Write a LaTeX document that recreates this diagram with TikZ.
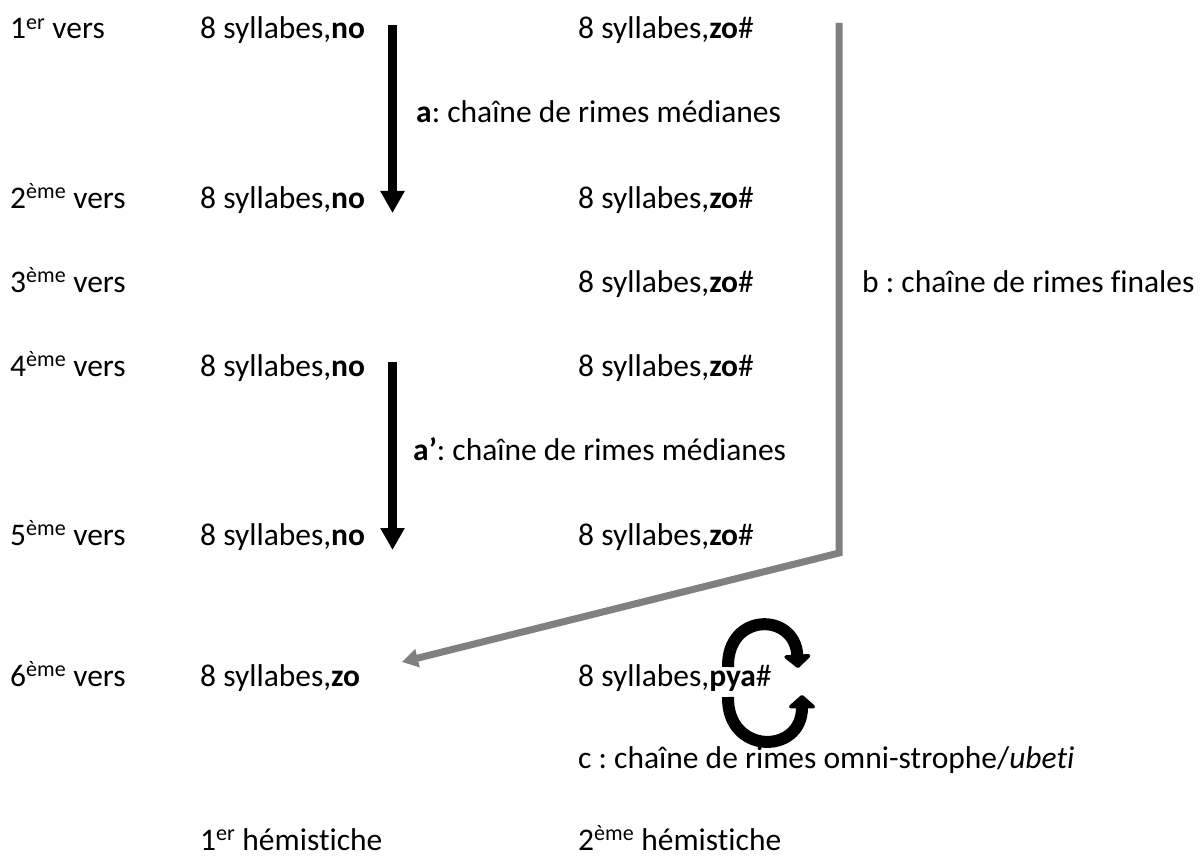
\documentclass[tikz,border=0pt]{standalone}
\usepackage{fontspec}
\setmainfont{Carlito}[Ligatures={NoCommon}]
\usetikzlibrary{arrows.meta}
\definecolor{chaingray}{RGB}{128,128,128}
\frenchspacing
\begin{document}
\begin{tikzpicture}[x=1pt,y=-1pt,
  txt/.style={anchor=base west, inner sep=0pt, font=\fontsize{31.5}{38}\selectfont\frenchspacing},
  blackarrow/.style={line width=8.5pt, draw=black, -{Triangle[width=23pt,length=22pt]}},
  grayarrow/.style={line width=7pt, draw=chaingray, line join=miter, -{Triangle[width=18pt,length=16pt]}},
  cyclearrow/.style={line width=12pt, draw=black, -{Triangle[width=31pt,length=14pt,round]}}]
\useasboundingbox (0,0) rectangle (1201,861);
% row labels
\node[txt] (v1) at (10,39) {1\textsuperscript{er} vers};
\node[txt] (v2) at (10,208) {2\textsuperscript{ème} vers};
\node[txt] (v3) at (10,292) {3\textsuperscript{ème} vers};
\node[txt] (v4) at (10,376) {4\textsuperscript{ème} vers};
\node[txt] (v5) at (10,545) {5\textsuperscript{ème} vers};
\node[txt] (v6) at (10,686) {6\textsuperscript{ème} vers};
% first hemistich
\node[txt] (h1r1) at (200,39) {8 syllabes,\textbf{no}};
\node[txt] (h1r2) at (200,208) {8 syllabes,\textbf{no}};
\node[txt] (h1r4) at (200,376) {8 syllabes,\textbf{no}};
\node[txt] (h1r5) at (200,545) {8 syllabes,\textbf{no}};
\node[txt] (h1r6) at (200,686) {8 syllabes,\textbf{zo}};
% second hemistich
\node[txt] (h2r1) at (578,39) {8 syllabes,\textbf{zo}\#};
\node[txt] (h2r2) at (578,208) {8 syllabes,\textbf{zo}\#};
\node[txt] (h2r3) at (578,292) {8 syllabes,\textbf{zo}\#};
\node[txt] (h2r4) at (578,376) {8 syllabes,\textbf{zo}\#};
\node[txt] (h2r5) at (578,545) {8 syllabes,\textbf{zo}\#};
\node[txt] (h2r6) at (578,686) {8 syllabes,\textbf{pya}\#};
% chain labels
\node[txt] (la) at (416,123) {\textbf{a}: chaîne de rimes médianes};
\node[txt] (lap) at (413,460) {\textbf{a’}: chaîne de rimes médianes};
\node[txt] (lb) at (862,292) {b : chaîne de rimes finales};
\node[txt] (lc) at (578,768) {c : chaîne de rimes omni-strophe/\textit{ubeti}};
% hemistich labels
\node[txt] (hem1) at (200,850) {1\textsuperscript{er} hémistiche};
\node[txt] (hem2) at (578,850) {2\textsuperscript{ème} hémistiche};
% arrow coordinates
\coordinate (a1s) at (392.5,25);
\coordinate (a1e) at (392.5,213);
\coordinate (a2s) at (392.5,362);
\coordinate (a2e) at (392.5,550);
\coordinate (bs) at (839,23);
\coordinate (bc) at (839,553);
\coordinate (be) at (402,662);
\coordinate (c1s) at (728,667);
\coordinate (c1e) at (798,668);
\coordinate (c2s) at (728,697);
\coordinate (c2e) at (802,695);
% arrows
\draw[blackarrow] (a1s) -- (a1e);
\draw[blackarrow] (a2s) -- (a2e);
\draw[grayarrow] (bs) -- (bc) -- (be);
\draw[cyclearrow] (c1s) .. controls (727,612) and (795,612) .. (c1e);
\draw[cyclearrow] (c2s) .. controls (727,755) and (802,755) .. (c2e);
\end{tikzpicture}
\end{document}
